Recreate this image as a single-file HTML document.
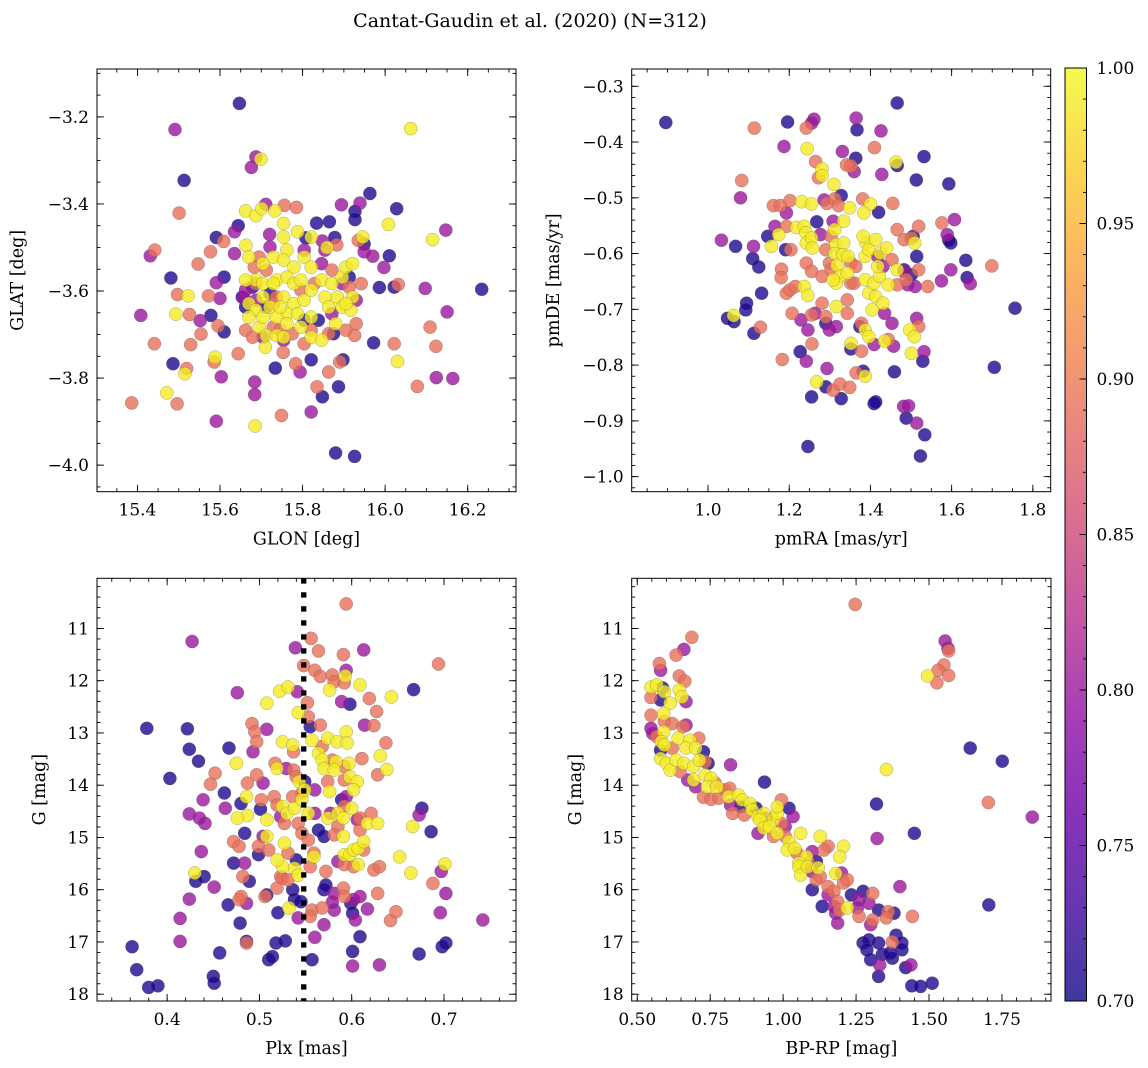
<!DOCTYPE html>
<html><head><meta charset="utf-8"><style>
body{margin:0;background:#fff}
svg{display:block;font-family:"DejaVu Serif","Liberation Serif",serif}
</style></head><body>
<svg id="fig" width="1148" height="1068" viewBox="0 0 1148 1068" xmlns="http://www.w3.org/2000/svg">
<defs>
<linearGradient id="plasma" x1="0" y1="1" x2="0" y2="0">
<stop offset="0" stop-color="#0d0887"/><stop offset="0.1" stop-color="#41049d"/><stop offset="0.2" stop-color="#6a00a8"/><stop offset="0.3" stop-color="#8f0da4"/><stop offset="0.4" stop-color="#b12a90"/><stop offset="0.5" stop-color="#cc4778"/><stop offset="0.6" stop-color="#e16462"/><stop offset="0.7" stop-color="#f2844b"/><stop offset="0.8" stop-color="#fca636"/><stop offset="0.9" stop-color="#fcce25"/><stop offset="1" stop-color="#f0f921"/>
</linearGradient>
</defs>
<text x="530" y="27" font-size="19" text-anchor="middle">Cantat-Gaudin et al. (2020) (N=312)</text>
</svg>
<script>
// ---- Panel A: GLON vs GLAT ----
const glonA=[15.647,15.491,16.062,15.687,15.676,15.699,15.513,15.501,15.963,16.028,15.894,15.939,15.927,15.927,15.662,15.687,15.701,15.711,15.733,15.756,15.785,16.008,16.115,16.147,15.644,15.635,15.591,15.609,15.834,15.865,15.720,15.754,15.754,15.788,15.808,15.848,15.878,15.883,15.859,15.946,15.935,15.949,15.949,15.970,16.010,15.997,15.431,15.442,15.577,15.547,15.635,15.663,15.481,15.610,15.497,15.523,15.572,15.591,15.600,15.408,15.493,15.526,15.578,15.552,15.554,15.595,15.610,15.441,15.529,15.986,16.022,16.032,16.097,16.234,16.150,16.109,16.123,15.972,16.022,16.030,16.124,16.164,16.078,15.486,15.519,15.515,15.588,15.586,15.644,15.684,15.684,15.603,15.591,15.471,15.496,15.386,15.685,15.749,15.821,15.734,15.753,15.783,15.794,15.821,15.835,15.848,15.863,15.887,15.890,15.898,15.880,15.926,15.710,
15.670,15.704,15.729,15.762,15.754,15.779,15.804,15.821,15.846,15.871,15.896,15.905,15.921,15.884,15.896,15.917,15.921,15.854,15.863,15.737,15.762,15.779,15.796,15.687,15.704,15.670,15.687,15.704,15.729,15.754,15.779,15.762,15.737,15.762,15.796,15.821,15.846,15.695,15.712,15.737,15.754,15.662,15.804,15.821,15.821,15.704,15.670,15.721,15.746,15.788,15.880,15.905,15.821,
15.683,15.712,15.737,15.729,15.729,15.687,15.746,15.775,15.804,15.821,15.863,15.905,15.926,15.930,15.942,15.913,15.871,15.829,15.796,15.695,15.662,15.679,
15.654,15.662,15.712,15.804,15.838,15.875,15.913,15.679,15.721,
15.662,15.658,15.687,15.704,15.754,15.871,15.930,15.896,15.846,15.854,15.721,15.804];
const glatA=[-3.169,-3.229,-3.227,-3.292,-3.316,-3.297,-3.346,-3.421,-3.376,-3.411,-3.402,-3.398,-3.417,-3.436,-3.416,-3.427,-3.411,-3.401,-3.416,-3.403,-3.408,-3.447,-3.482,-3.460,-3.450,-3.464,-3.477,-3.486,-3.444,-3.441,-3.470,-3.445,-3.476,-3.464,-3.478,-3.485,-3.477,-3.494,-3.500,-3.476,-3.484,-3.492,-3.510,-3.520,-3.519,-3.546,-3.519,-3.506,-3.510,-3.538,-3.514,-3.495,-3.570,-3.568,-3.608,-3.611,-3.611,-3.581,-3.617,-3.656,-3.653,-3.654,-3.656,-3.668,-3.699,-3.680,-3.694,-3.721,-3.723,-3.592,-3.591,-3.585,-3.594,-3.596,-3.648,-3.683,-3.727,-3.719,-3.721,-3.762,-3.799,-3.801,-3.819,-3.767,-3.778,-3.790,-3.752,-3.763,-3.744,-3.809,-3.838,-3.797,-3.899,-3.834,-3.859,-3.857,-3.910,-3.886,-3.878,-3.777,-3.741,-3.767,-3.786,-3.758,-3.820,-3.843,-3.786,-3.820,-3.763,-3.758,-3.972,-3.980,-3.729,
-3.522,-3.537,-3.522,-3.506,-3.529,-3.545,-3.522,-3.545,-3.575,-3.583,-3.568,-3.545,-3.537,-3.614,-3.637,-3.644,-3.614,-3.614,-3.637,-3.575,-3.568,-3.583,-3.575,-3.575,-3.583,-3.629,-3.644,-3.614,-3.583,-3.614,-3.629,-3.652,-3.660,-3.675,-3.683,-3.706,-3.713,-3.683,-3.702,-3.702,-3.706,-3.575,-3.621,-3.598,-3.660,-3.660,-3.660,-3.637,-3.637,-3.652,-3.675,-3.629,-3.476,
-3.545,-3.552,-3.614,-3.629,-3.683,-3.583,-3.690,-3.698,-3.721,-3.690,-3.698,-3.690,-3.702,-3.675,-3.583,-3.591,-3.552,-3.583,-3.598,-3.522,-3.690,-3.706,
-3.614,-3.637,-3.637,-3.667,-3.667,-3.698,-3.568,-3.591,-3.606,
-3.598,-3.617,-3.621,-3.706,-3.713,-3.652,-3.621,-3.583,-3.537,-3.506,-3.499,-3.506];
const probA=[.71,.80,.99,.80,.80,.99,.71,.89,.71,.71,.80,.80,.71,.71,.99,.99,.99,.80,.99,.89,.89,.99,.99,.80,.71,.80,.71,.89,.71,.71,.80,.99,.99,.99,.71,.80,.71,.89,.99,.99,.89,.71,.80,.80,.71,.80,.80,.89,.89,.89,.80,.99,.71,.71,.89,.99,.89,.80,.80,.80,.99,.89,.71,.80,.89,.89,.71,.89,.89,.71,.71,.89,.80,.71,.80,.89,.89,.71,.89,.99,.80,.80,.89,.71,.89,.99,.99,.89,.89,.80,.80,.80,.80,.99,.89,.89,.99,.89,.80,.71,.89,.89,.80,.71,.89,.71,.89,.71,.89,.71,.71,.71,.99,
.99,.99,.99,.99,.99,.99,.99,.99,.99,.99,.99,.99,.99,.99,.99,.99,.99,.99,.99,.99,.99,.99,.99,.99,.99,.99,.99,.99,.99,.99,.99,.99,.99,.99,.99,.99,.99,.99,.99,.99,.99,.99,.99,.99,.99,.99,.99,.99,.99,.99,.99,.99,.99,
.89,.89,.89,.89,.89,.89,.89,.89,.89,.89,.89,.89,.89,.89,.89,.89,.89,.89,.89,.89,.89,.89,
.71,.71,.71,.71,.71,.71,.71,.71,.71,
.80,.80,.80,.80,.80,.80,.80,.80,.80,.80,.80,.80];

// ---- Panel B: pmRA vs pmDE ----
const pmraB=[.896,1.196,1.114,1.242,1.261,1.255,1.466,1.365,1.367,1.426,1.187,1.244,1.331,1.410,1.364,1.532,1.463,1.466,1.265,1.341,1.352,1.360,1.428,1.513,1.593,1.083,1.080,1.281,1.281,1.272,1.310,1.328,1.161,1.178,1.202,1.231,1.255,1.286,1.293,1.312,1.321,1.349,1.381,1.400,1.384,1.420,1.455,1.193,1.268,1.308,1.334,1.312,1.193,1.033,1.068,1.112,1.147,1.165,1.110,1.125,1.132,1.095,1.093,1.048,1.064,1.063,1.113,1.129,1.156,1.174,1.191,1.204,1.218,1.237,1.241,1.242,1.255,1.257,1.277,1.181,1.180,1.193,1.202,1.215,1.237,1.242,1.255,1.246,1.207,1.255,1.264,1.229,1.246,1.256,1.242,1.183,1.227,1.255,1.268,1.290,1.308,1.325,1.349,1.328,1.246,1.290,1.299,1.293,1.316,1.290,1.299,1.303,1.315,1.312,1.318,1.334,1.332,1.345,1.352,1.364,1.387,1.389,1.396,1.382,1.413,1.424,1.440,1.431,1.418,1.453,1.325,1.343,1.352,1.343,1.316,1.308,1.303,1.281,1.281,1.290,1.316,1.343,1.360,1.387,1.396,1.409,1.413,1.431,1.422,1.418,1.444,1.404,1.387,1.396,1.378,1.374,1.352,1.352,1.378,1.365,1.382,1.387,1.409,1.409,1.413,1.435,1.444,1.457,1.435,1.453,1.466,1.466,1.483,1.488,1.492,1.501,1.510,1.519,1.541,1.497,1.508,1.501,1.514,1.519,1.532,1.529,1.459,1.482,1.494,1.488,1.514,1.534,1.523,1.483,1.514,1.509,1.505,1.519,1.483,1.501,1.466,1.576,1.607,1.593,1.598,1.589,1.635,1.598,1.638,1.646,1.575,1.699,1.756,1.705];
const pmdeB=[-.365,-.364,-.375,-.375,-.359,-.366,-.330,-.357,-.378,-.380,-.408,-.412,-.417,-.410,-.429,-.426,-.436,-.442,-.435,-.441,-.443,-.453,-.458,-.468,-.475,-.469,-.500,-.448,-.460,-.464,-.476,-.496,-.514,-.514,-.505,-.507,-.511,-.504,-.510,-.502,-.514,-.518,-.502,-.511,-.527,-.526,-.510,-.527,-.543,-.542,-.542,-.557,-.551,-.576,-.587,-.587,-.569,-.551,-.609,-.624,-.671,-.689,-.701,-.716,-.722,-.711,-.743,-.732,-.587,-.566,-.593,-.593,-.553,-.551,-.563,-.581,-.572,-.590,-.566,-.628,-.643,-.671,-.665,-.659,-.659,-.617,-.632,-.675,-.707,-.710,-.707,-.719,-.737,-.762,-.793,-.790,-.776,-.857,-.830,-.839,-.845,-.834,-.840,-.860,-.946,-.725,-.737,-.806,-.731,-.593,-.617,-.569,-.584,-.600,-.621,-.581,-.602,-.605,-.617,-.623,-.605,-.581,-.593,-.569,-.575,-.599,-.590,-.623,-.605,-.611,-.641,-.635,-.653,-.683,-.653,-.647,-.629,-.641,-.689,-.713,-.695,-.707,-.653,-.647,-.671,-.653,-.677,-.689,-.641,-.623,-.656,-.701,-.737,-.749,-.725,-.731,-.771,-.761,-.775,-.814,-.811,-.820,-.763,-.869,-.866,-.757,-.754,-.766,-.707,-.725,-.656,-.629,-.632,-.647,-.656,-.638,-.659,-.629,-.659,-.737,-.749,-.779,-.716,-.731,-.776,-.793,-.812,-.874,-.873,-.895,-.904,-.925,-.963,-.629,-.605,-.581,-.569,-.551,-.575,-.572,-.557,-.545,-.539,-.576,-.581,-.566,-.612,-.629,-.643,-.654,-.649,-.622,-.698,-.804];
const probB=[.71,.71,.89,.89,.80,.80,.71,.80,.71,.80,.80,.99,.80,.89,.71,.71,.99,.71,.89,.89,.89,.80,.80,.71,.71,.89,.80,.99,.99,.89,.99,.71,.89,.89,.89,.99,.99,.80,.89,.89,.89,.99,.89,.99,.99,.71,.89,.80,.71,.80,.99,.99,.89,.80,.71,.80,.71,.80,.71,.71,.71,.71,.71,.71,.71,.99,.71,.89,.99,.99,.71,.89,.99,.99,.99,.99,.99,.99,.80,.89,.89,.89,.89,.89,.99,.89,.89,.99,.89,.89,.80,.80,.80,.89,.80,.89,.71,.71,.99,.71,.89,.89,.89,.71,.71,.71,.80,.80,.80,.89,.89,.89,.99,.99,.99,.99,.99,.99,.89,.89,.99,.99,.99,.99,.99,.99,.99,.80,.80,.89,.99,.99,.89,.89,.99,.99,.89,.89,.89,.89,.99,.89,.89,.99,.99,.99,.99,.99,.99,.99,.99,.99,.99,.99,.89,.71,.71,.99,.89,.89,.71,.99,.80,.71,.71,.99,.89,.80,.80,.80,.89,.99,.80,.89,.80,.71,.80,.89,.89,.99,.99,.99,.80,.89,.80,.71,.71,.80,.80,.71,.80,.71,.71,.71,.71,.99,.71,.89,.89,.89,.89,.89,.80,.71,.71,.80,.71,.80,.71,.80,.80,.89,.71,.71];

// ---- Panel C: Plx vs G ----
const plxC=[.594,.427,.539,.556,.564,.591,.613,.548,.560,.566,.579,.581,.592,.594,.593,.694,.476,.522,.531,.541,.576,.609,.619,.643,.667,.508,.552,.542,.589,.598,.627,.378,.422,.424,.434,.403,.467,.492,.495,.497,.493,.508,.525,.536,.537,.553,.555,.557,.566,.574,.584,.594,.595,.614,.624,.637,.564,.568,.568,.570,.579,.583,.581,.592,.597,.611,.631,.638,.628,.475,.452,.447,.487,.497,.504,.517,.519,.529,.537,.540,.543,.549,.574,.576,.560,.592,.598,.606,.602,.462,.439,.480,.486,.487,.476,.463,.424,.435,.441,.437,.501,.502,.516,.519,.525,.530,.538,.546,.536,.546,.549,.508,.508,.523,.527,.542,.546,.553,.560,.564,.570,.574,.585,.591,.600,.592,.589,.594,.577,.585,.591,.581,.606,.609,.617,.609,.621,.628,.484,.504,.499,.510,.527,.531,.540,.538,.542,.525,.519,.523,.472,.478,.499,.472,.484,.553,.559,.555,.559,.572,.585,.592,.592,.598,.602,.607,.613,.613,.602,.607,.624,.630,.652,.664,.666,.673,.676,.686,.701,.697,.688,.702,.696,.742,.431,.440,.430,.424,.414,.414,.451,.466,.479,.480,.489,.482,.486,.478,.486,.486,.519,.506,.508,.520,.518,.528,.510,.514,.525,.531,.536,.538,.545,.542,.532,.557,.555,.557,.560,.570,.568,.579,.581,.581,.572,.570,.591,.592,.599,.601,.604,.602,.609,.617,.628,.609,.601,.601,.630,.673,.698,.702,.642,.648,.457,.450,.451,.390,.380,.367,.362];
const gC=[10.53,11.25,11.37,11.19,11.43,11.50,11.41,11.71,11.80,11.92,11.89,12.02,12.04,11.80,11.91,11.68,12.23,12.20,12.12,12.21,12.18,12.08,12.34,12.31,12.17,12.43,12.42,12.61,12.40,12.45,12.59,12.91,12.92,13.31,13.54,13.87,13.29,12.82,12.98,13.17,13.36,12.93,13.17,13.23,13.36,12.69,12.88,13.14,12.85,13.10,13.17,12.98,13.19,12.85,12.86,13.19,13.39,13.26,13.52,13.68,13.52,13.55,13.71,13.64,13.58,13.49,13.44,13.70,13.80,13.58,13.77,13.98,13.96,13.80,13.96,13.58,13.68,13.68,13.71,13.84,13.93,13.93,13.93,14.12,14.09,13.90,13.84,13.93,14.09,14.15,14.28,14.35,14.22,14.58,14.63,14.44,14.55,14.63,14.73,15.27,14.46,14.28,14.22,14.38,14.41,14.54,14.44,14.15,14.22,14.28,14.09,14.66,14.98,14.60,14.73,14.73,14.92,14.54,14.54,14.86,14.98,14.63,14.54,14.63,14.44,14.41,14.28,14.22,14.54,14.79,14.98,14.95,14.66,14.86,14.73,14.63,14.54,14.73,14.92,14.98,15.17,15.24,15.11,15.30,15.43,15.59,15.72,15.56,15.43,15.75,15.08,15.17,15.33,15.49,15.49,15.05,15.30,15.56,15.37,15.65,15.46,15.52,15.33,15.33,15.24,15.21,15.08,15.24,15.56,15.52,15.62,15.56,15.37,15.68,14.79,14.57,14.44,14.89,15.51,15.65,15.88,16.07,16.44,16.58,15.84,15.75,15.68,16.18,16.55,16.99,15.95,16.29,16.64,16.13,15.84,15.75,16.26,16.19,17.02,16.99,15.97,16.13,16.10,16.44,17.02,16.98,17.34,17.28,15.78,15.81,16.00,16.19,16.23,16.54,16.35,16.39,16.51,17.34,16.91,16.67,16.35,16.24,16.07,16.39,15.91,16.00,15.97,16.13,16.26,16.45,16.58,16.19,16.13,16.37,16.07,16.90,17.18,17.46,17.44,17.23,17.09,17.02,16.59,16.42,17.21,17.66,17.79,17.84,17.87,17.53,17.09];
const probC=[.89,.80,.80,.89,.89,.89,.80,.89,.89,.89,.89,.89,.89,.80,.99,.89,.80,.99,.99,.80,.99,.99,.89,.99,.71,.99,.89,.99,.80,.71,.89,.71,.71,.71,.71,.71,.71,.89,.89,.89,.80,.80,.99,.99,.89,.89,.71,.99,.89,.99,.99,.99,.99,.80,.89,.89,.99,.89,.99,.99,.89,.99,.99,.89,.99,.89,.99,.99,.89,.99,.89,.89,.89,.89,.80,.89,.99,.80,.89,.89,.99,.71,.89,.99,.80,.89,.99,.99,.99,.71,.80,.71,.99,.99,.99,.80,.80,.80,.80,.80,.71,.89,.89,.89,.99,.99,.99,.89,.89,.99,.99,.99,.99,.80,.89,.89,.89,.99,.80,.71,.71,.99,.99,.99,.99,.89,.71,.80,.80,.89,.99,.89,.80,.89,.99,.89,.89,.99,.71,.80,.89,.89,.99,.89,.71,.99,.99,.99,.99,.89,.89,.89,.71,.71,.80,.89,.89,.89,.99,.89,.80,.89,.99,.99,.99,.99,.99,.89,.89,.99,.89,.89,.99,.99,.99,.80,.71,.71,.99,.80,.89,.80,.80,.80,.71,.71,.99,.80,.80,.80,.80,.71,.71,.89,.71,.89,.80,.89,.89,.71,.89,.89,.71,.71,.71,.71,.71,.71,.89,.89,.71,.71,.71,.80,.99,.89,.89,.71,.80,.80,.89,.80,.80,.80,.71,.71,.89,.89,.71,.71,.80,.80,.80,.80,.89,.71,.71,.80,.80,.71,.71,.71,.89,.89,.71,.71,.71,.71,.71,.71,.71];
const plxLine=[0.548];

// ---- Panel D: BP-RP vs G ----
const bprpD=[1.247,.687,.660,.633,.576,.580,1.555,1.565,1.567,1.551,1.531,1.567,1.495,1.527,.644,.663,.547,.567,.587,.593,.644,.653,.667,.547,.580,.613,.547,.591,.593,.620,.667,.657,.547,.553,.567,.591,.640,.680,.711,.583,.593,.580,.620,.667,.700,.727,.580,.600,.613,.633,.647,.660,.693,.713,.733,.743,.820,.673,.700,.693,.733,.753,.740,.767,.773,.800,.817,.727,.753,.780,.813,.847,.860,.820,.827,.854,.867,.887,.894,.907,.914,.934,.940,.940,.967,.980,.994,.914,.920,.934,.954,.980,.967,1.007,1.020,1.014,1.040,1.047,1.060,1.080,1.087,1.054,.980,.994,1.020,1.034,1.007,1.054,1.060,1.084,1.098,1.120,1.114,1.127,1.154,1.140,1.207,1.194,1.180,1.100,1.114,1.100,1.127,1.154,1.174,1.207,1.220,1.200,1.134,1.154,1.187,1.174,1.180,1.194,1.220,1.187,1.234,1.260,1.254,1.274,1.307,1.294,1.260,1.307,1.327,1.360,1.354,1.380,1.300,1.400,1.443,1.705,1.274,1.294,1.327,1.287,1.300,1.340,1.367,1.374,1.387,1.407,1.407,1.374,1.331,1.327,1.420,1.438,1.441,1.471,1.511,.936,1.320,1.322,1.450,1.354,1.641,1.751,1.703,1.854];
const gD=[10.54,11.17,11.40,11.51,11.67,11.80,11.24,11.38,11.43,11.70,11.80,11.90,11.91,12.04,11.91,12.01,12.12,12.08,12.14,12.21,12.18,12.31,12.40,12.32,12.37,12.43,12.66,12.63,12.78,12.82,12.85,12.88,12.91,13.01,13.07,12.98,13.10,13.14,13.10,13.17,13.23,13.33,13.29,13.29,13.29,13.36,13.49,13.58,13.71,13.52,13.74,13.58,13.64,13.52,13.55,13.58,13.61,13.90,14.03,13.90,13.80,13.87,14.03,13.96,14.03,14.09,14.06,14.23,14.27,14.25,14.22,14.19,14.28,14.38,14.54,14.41,14.57,14.35,14.47,14.44,14.60,14.54,14.63,14.73,14.66,14.54,14.73,14.92,14.66,14.82,14.79,14.92,14.98,14.98,15.08,15.24,15.21,15.30,14.92,15.37,15.49,15.49,14.41,14.28,14.44,14.60,14.79,15.56,15.72,15.56,15.65,15.58,15.46,14.98,15.17,15.24,15.17,15.37,15.69,15.27,15.81,16.00,15.75,15.94,16.03,15.87,15.81,15.68,16.32,16.10,16.23,16.32,16.45,16.39,16.35,16.64,16.10,16.19,16.35,16.03,16.07,16.26,16.51,16.58,16.39,16.42,16.54,16.45,16.67,15.94,16.51,16.29,17.02,16.96,17.02,17.15,17.34,17.24,17.21,17.00,16.87,17.02,17.15,17.31,17.44,17.66,17.49,17.44,17.84,17.85,17.79,13.94,14.36,15.02,14.92,13.70,13.29,13.54,14.33,14.61];
const probD=[.89,.89,.80,.89,.89,.80,.80,.80,.89,.89,.89,.89,.99,.89,.89,.89,.99,.99,.71,.99,.99,.99,.80,.89,.71,.99,.89,.99,.89,.89,.80,.89,.80,.80,.89,.99,.99,.99,.89,.99,.99,.71,.89,.99,.99,.71,.99,.99,.99,.99,.89,.99,.99,.99,.89,.71,.80,.80,.80,.99,.99,.99,.99,.89,.99,.89,.89,.89,.89,.89,.99,.99,.99,.80,.89,.71,.89,.99,.99,.71,.99,.99,.80,.99,.99,.99,.89,.80,.99,.99,.99,.99,.89,.89,.99,.99,.99,.89,.99,.99,.89,.99,.99,.89,.71,.80,.80,.99,.99,.99,.80,.99,.71,.99,.89,.89,.99,.99,.99,.80,.89,.71,.89,.89,.89,.89,.89,.80,.71,.80,.89,.80,.80,.89,.99,.80,.71,.80,.80,.71,.89,.80,.89,.89,.71,.89,.89,.71,.80,.80,.89,.71,.71,.71,.71,.71,.71,.71,.71,.89,.71,.71,.71,.71,.80,.71,.71,.80,.71,.71,.71,.71,.71,.80,.71,.99,.71,.71,.89,.80];

// ---- colorbar ----
const cbTicks=[0.70,0.75,0.80,0.85,0.90,0.95,1.00];

const NS="http://www.w3.org/2000/svg";
const svg=document.getElementById('fig');
const stops=[[0,[13,8,135]],[.1,[65,4,157]],[.2,[106,0,168]],[.3,[143,13,164]],[.4,[177,42,144]],[.5,[204,71,120]],[.6,[225,100,98]],[.7,[242,132,75]],[.8,[252,166,54]],[.9,[252,206,37]],[1,[240,249,33]]];
function plasma(p){let t=Math.max(0,Math.min(1,(p-0.7)/0.3));for(let i=1;i<stops.length;i++){if(t<=stops[i][0]){const a=stops[i-1],b=stops[i];const f=(t-a[0])/(b[0]-a[0]);const c=a[1].map((v,k)=>Math.round(v+(b[1][k]-v)*f));return `rgb(${c[0]},${c[1]},${c[2]})`;}}return 'rgb(240,249,33)';}
function mk(tag,attrs,parent){const e=document.createElementNS(NS,tag);for(const k in attrs)e.setAttribute(k,attrs[k]);(parent||svg).appendChild(e);return e;}
function fmt(v,d){return (v<0?'\u2212':'')+Math.abs(v).toFixed(d);}
function range(a,b,s){const r=[];for(let v=a;v<=b+s*1e-6;v+=s)r.push(Math.round(v*1e6)/1e6);return r;}

function panel(cfg){
  const g=mk('g',{});
  
  
  const sx=v=>cfg.x0+(v-cfg.xl[0])/(cfg.xl[1]-cfg.xl[0])*(cfg.x1-cfg.x0);
  const sy=v=>cfg.y1-(v-cfg.yl[0])/(cfg.yl[1]-cfg.yl[0])*(cfg.y1-cfg.y0);
  const idx=cfg.xs.map((_,i)=>i).sort((a,b)=>cfg.ps[a]-cfg.ps[b]);
  const clip='clip-'+cfg.name;
  const cp=mk('clipPath',{id:clip},g);mk('rect',{x:cfg.x0,y:cfg.y0,width:cfg.x1-cfg.x0,height:cfg.y1-cfg.y0},cp);
  const pg=mk('g',{'clip-path':`url(#${clip})`},g);
  for(const i of idx){
    const c=mk('circle',{cx:sx(cfg.xs[i]).toFixed(1),cy:sy(cfg.ys[i]).toFixed(1),r:6.6,fill:plasma(cfg.ps[i]),'fill-opacity':0.8,stroke:'#555','stroke-width':0.4,'stroke-opacity':0.6},pg);
    
    
  }
  if(cfg.vline){for(const v of cfg.vline){const l=mk('line',{x1:sx(v),x2:sx(v),y1:cfg.y0,y2:cfg.y1,stroke:'#000','stroke-width':5.3,'stroke-dasharray':'5.3 8.7'},g);
    
    }}
  const tg=mk('g',{stroke:'#000','stroke-width':0.9},g);
  for(const v of cfg.xminor){const x=sx(v);if(x<cfg.x0||x>cfg.x1)continue;mk('line',{x1:x,x2:x,y1:cfg.y1,y2:cfg.y1-3.5},tg);mk('line',{x1:x,x2:x,y1:cfg.y0,y2:cfg.y0+3.5},tg);}
  for(const v of cfg.yminor){const y=sy(v);if(y<cfg.y0||y>cfg.y1)continue;mk('line',{x1:cfg.x0,x2:cfg.x0+3.5,y1:y,y2:y},tg);mk('line',{x1:cfg.x1,x2:cfg.x1-3.5,y1:y,y2:y},tg);}
  for(const v of cfg.xmajor){const x=sx(v);mk('line',{x1:x,x2:x,y1:cfg.y1,y2:cfg.y1-7},tg);mk('line',{x1:x,x2:x,y1:cfg.y0,y2:cfg.y0+7},tg);
    const t=mk('text',{x:x,y:cfg.y1+24,'font-size':17,'text-anchor':'middle'},g);t.textContent=fmt(v,cfg.xd);
    
    }
  for(const v of cfg.ymajor){const y=sy(v);mk('line',{x1:cfg.x0,x2:cfg.x0+7,y1:y,y2:y},tg);mk('line',{x1:cfg.x1,x2:cfg.x1-7,y1:y,y2:y},tg);
    const t=mk('text',{x:cfg.x0-8,y:y+6,'font-size':17,'text-anchor':'end'},g);t.textContent=fmt(v,cfg.yd);
    
    }
  const fr=mk('rect',{x:cfg.x0,y:cfg.y0,width:cfg.x1-cfg.x0,height:cfg.y1-cfg.y0,fill:'none',stroke:'#000','stroke-width':1},g);
  
  
  const xt=mk('text',{x:(cfg.x0+cfg.x1)/2,y:cfg.y1+53,'font-size':17.5,'text-anchor':'middle'},g);xt.textContent=cfg.xlabel;
  
  
  const yx=cfg.ylx,yy=(cfg.y0+cfg.y1)/2;
  const yt=mk('text',{x:yx,y:yy,'font-size':17.5,'text-anchor':'middle',transform:`rotate(-90 ${yx} ${yy})`},g);yt.textContent=cfg.ylabel;
  
  
}

panel({name:'panel-glon-glat',x0:97,x1:516,y0:69,y1:491.7,xl:[15.302,16.317],yl:[-4.061,-3.090],xs:glonA,ys:glatA,ps:probA,
  xmajor:range(15.4,16.2,0.2),xminor:range(15.3,16.3,0.05),ymajor:range(-4.0,-3.2,0.2),yminor:range(-4.05,-3.1,0.05),xd:1,yd:1,xlabel:'GLON [deg]',ylabel:'GLAT [deg]',ylx:23});
panel({name:'panel-pmra-pmde',x0:631.7,x1:1050.7,y0:69,y1:491.7,xl:[0.812,1.844],yl:[-1.027,-0.269],xs:pmraB,ys:pmdeB,ps:probB,
  xmajor:range(1.0,1.8,0.2),xminor:range(0.85,1.8,0.05),ymajor:range(-1.0,-0.3,0.1),yminor:range(-1.02,-0.28,0.02),xd:1,yd:1,xlabel:'pmRA [mas/yr]',ylabel:'pmDE [mas/yr]',ylx:559});
panel({name:'panel-plx-g',x0:97,x1:516,y0:578.3,y1:1001,xl:[0.324,0.778],yl:[18.13,10.04],xs:plxC,ys:gC,ps:probC,vline:plxLine,
  xmajor:range(0.4,0.7,0.1),xminor:range(0.34,0.76,0.02),ymajor:range(11,18,1),yminor:range(10.2,18,0.2),xd:1,yd:0,xlabel:'Plx [mas]',ylabel:'G [mag]',ylx:45});
panel({name:'panel-bprp-g',x0:631.7,x1:1051,y0:578.3,y1:1001,xl:[0.481,1.918],yl:[18.13,10.04],xs:bprpD,ys:gD,ps:probD,
  xmajor:range(0.5,1.75,0.25),xminor:range(0.5,1.9,0.05),ymajor:range(11,18,1),yminor:range(10.2,18,0.2),xd:2,yd:0,xlabel:'BP-RP [mag]',ylabel:'G [mag]',ylx:581});

(function(){
  const x0=1065,x1=1086.5,y0=68,y1=1001;
  const cy=v=>y1-(v-0.7)/0.3*(y1-y0);
  const cg=mk('g',{});
  
  
  mk('rect',{x:x0,y:y0,width:x1-x0,height:y1-y0,fill:'url(#plasma)','fill-opacity':0.8},cg);
  mk('rect',{x:x0,y:y0,width:x1-x0,height:y1-y0,fill:'none',stroke:'#000','stroke-width':1},cg);
  for(const v of range(0.71,0.99,0.01)){mk('line',{x1:x1,x2:x1-3.5,y1:cy(v),y2:cy(v),stroke:'#000','stroke-width':0.9},cg);}
  for(const v of cbTicks){mk('line',{x1:x1,x2:x1-7,y1:cy(v),y2:cy(v),stroke:'#000','stroke-width':0.9},cg);
    const t=mk('text',{x:x1+10,y:cy(v)+6,'font-size':17},cg);t.textContent=v.toFixed(2);
    
    }
})();
</script>
</body></html>
